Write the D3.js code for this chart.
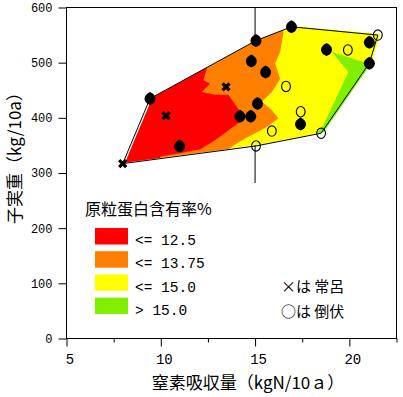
<!DOCTYPE html>
<html>
<head>
<meta charset="utf-8">
<script src="https://cdn.jsdelivr.net/npm/d3@7"></script>
<style>
  body { margin: 0; background: #fff; }
</style>
</head>
<body>
<svg id="chart" width="403" height="397"></svg>
<script>
// points: nitrogen uptake (kgN/10a) and grain yield (kg/10a)
const normalN = [9.43, 11.0, 14.2, 14.77, 15.05, 14.8, 15.56, 15.13, 16.93, 17.41, 18.79, 21.06, 21.06];
const normalYield = [435, 349, 403, 403, 540, 503, 483, 426, 565, 389, 524, 537, 499];
const tokoroN = [7.98, 10.28, 13.46];          // × は 常呂
const tokoroYield = [317, 404, 456];
const lodgedN = [15.05, 16.64, 15.89, 17.42, 19.92, 18.5, 21.51]; // ○ は 倒伏
const lodgedYield = [349, 457, 376, 411, 523, 372, 550];

// protein class areas (N, yield), clipped to the hull later
const redArea = [[12.45, 513], [12.44, 489], [12.26, 468], [12.61, 462], [12.17, 447], [12.88, 442],
  [13.58, 442], [14.47, 399], [14.1, 390], [12.9, 360], [12.1, 343], [11.0, 336], [10.0, 330],
  [9.5, 290], [6.5, 290], [6.5, 513]];
const orangeArea = [[16.5, 590], [16.5, 553], [16.33, 519.5], [16.06, 498.5], [16.33, 471], [15.89, 447],
  [15.36, 429], [15.89, 414], [16.24, 399], [15.62, 383.5], [14.47, 362.5], [13.85, 350], [13.41, 338],
  [13.14, 300], [6.5, 300], [6.5, 590]];
const greenArea = [[19.07, 519.5], [20.75, 501], [21.2, 507], [22.6, 507], [22.6, 300], [17.8, 300],
  [18.18, 368.5], [18.62, 386.6], [19.95, 483]];

const classLabels = ["<= 12.5", "<= 13.75", "<= 15.0", "> 15.0"];
const classColors = ["#ff0000", "#ff8000", "#ffff00", "#80f000"];

const xTicks = [5, 7.5, 10, 12.5, 15, 17.5, 20, 22.5];
const yTicks = [0, 100, 200, 300, 400, 500, 600];
const refN = 15, refTop = 600, refBottom = 282;

const svg = d3.select("#chart");

const x = d3.scaleLinear().domain([5, 22.5]).range([66.5, 396.5]);
const y = d3.scaleLinear().domain([0, 600]).range([338.5, 7.5]);

const jp = "'Noto Sans CJK JP', sans-serif";
const mono = "'Liberation Mono', 'DejaVu Sans Mono', monospace";

// reference line at 15 (sits under the fill)
svg.append("line")
  .attr("x1", x(refN)).attr("x2", x(refN))
  .attr("y1", y(refTop)).attr("y2", y(refBottom))
  .attr("stroke", "#000");

const pts = [];
normalN.forEach((n, i) => pts.push([x(n), y(normalYield[i])]));
tokoroN.forEach((n, i) => pts.push([x(n), y(tokoroYield[i])]));
lodgedN.forEach((n, i) => pts.push([x(n), y(lodgedYield[i])]));
const hull = d3.polygonHull(pts);
const hullPath = "M" + hull.join("L") + "Z";

// fill is a little offset from the outline, as in the original
svg.append("clipPath").attr("id", "hullclip")
  .append("path")
  .attr("d", hullPath)
  .attr("transform", "translate(2.5,-1)");

const fills = svg.append("g").attr("clip-path", "url(#hullclip)");
fills.append("path").attr("d", hullPath).attr("transform", "translate(2.5,-1)").attr("fill", classColors[2]);

const area = d3.line().x(d => x(d[0])).y(d => y(d[1]));
fills.append("path").attr("d", area(orangeArea) + "Z").attr("fill", classColors[1]);
fills.append("path").attr("d", area(redArea) + "Z").attr("fill", classColors[0]);
fills.append("path").attr("d", area(greenArea) + "Z").attr("fill", classColors[3]);

svg.append("path").attr("d", hullPath).attr("fill", "none").attr("stroke", "#000").attr("stroke-width", 1);

// markers
svg.append("g").selectAll("path")
  .data(normalN.map((n, i) => [n, normalYield[i]]))
  .join("path")
  .attr("transform", d => `translate(${x(d[0])},${y(d[1])})`)
  .attr("d", "M0,-6.5C3,-5 5.5,-3 5.5,0C5.5,3.5 3,5.5 0,6.5C-3,5.5 -5.5,3.5 -5.5,0C-5.5,-3 -3,-5 0,-6.5Z")
  .attr("fill", "#000");

svg.append("g").selectAll("ellipse")
  .data(lodgedN.map((n, i) => [n, lodgedYield[i]]))
  .join("ellipse")
  .attr("cx", d => x(d[0])).attr("cy", d => y(d[1]))
  .attr("rx", 4.4).attr("ry", 5.2)
  .attr("fill", "none").attr("stroke", "#000").attr("stroke-width", 1.1);

svg.append("g").selectAll("path")
  .data(tokoroN.map((n, i) => [n, tokoroYield[i]]))
  .join("path")
  .attr("transform", d => `translate(${x(d[0])},${y(d[1])})`)
  .attr("d", "M-3.5,-3.5L3.5,3.5M3.5,-3.5L-3.5,3.5")
  .attr("stroke", "#000").attr("stroke-width", 3.3);

// frame
svg.append("rect")
  .attr("x", x(5)).attr("y", y(600))
  .attr("width", x(22.5) - x(5)).attr("height", y(0) - y(600))
  .attr("fill", "none").attr("stroke", "#000");

// axes
const xAxis = svg.append("g")
  .attr("transform", `translate(0,${y(0)})`)
  .call(d3.axisBottom(x).tickValues(xTicks).tickSizeOuter(0)
    .tickFormat(d => d % 5 === 0 && d < 22 ? d3.format("d")(d) : ""));
xAxis.select(".domain").remove();
xAxis.selectAll(".tick line").attr("y2", d => d % 5 === 0 ? 8 : 4);
xAxis.selectAll(".tick text")
  .attr("y", 25).attr("dy", 0).attr("dx", 3)
  .style("font-family", mono).style("font-size", "14px").attr("fill", "#000");

const yAxis = svg.append("g")
  .attr("transform", `translate(${x(5)},0)`)
  .call(d3.axisLeft(y).tickValues(yTicks).tickSize(8).tickPadding(6).tickSizeOuter(0));
yAxis.select(".domain").remove();
yAxis.selectAll(".tick text")
  .style("font-family", mono).style("font-size", "12px").attr("fill", "#000");

// axis titles
svg.append("text")
  .attr("x", 248).attr("y", 389)
  .attr("text-anchor", "middle")
  .style("font-family", jp).style("font-size", "17px")
  .text("窒素吸収量（kgN/10ａ）");

svg.append("text")
  .attr("transform", "translate(21,154) rotate(-90)")
  .attr("text-anchor", "middle")
  .style("font-family", jp).style("font-size", "17px")
  .text("子実重（kg/10a）");

// legend
svg.append("text")
  .attr("x", 85).attr("y", 215)
  .style("font-family", jp).style("font-size", "16px")
  .text("原粒蛋白含有率%");

const legend = svg.append("g");
classLabels.forEach((lab, i) => {
  legend.append("rect")
    .attr("x", 95).attr("y", 228 + i * 23.2)
    .attr("width", 33).attr("height", 16.5)
    .attr("fill", classColors[i]);
  legend.append("text")
    .attr("x", 135).attr("y", 245 + i * 23.4)
    .style("font-family", mono).style("font-size", "14.5px")
    .text(lab);
});

svg.append("text")
  .attr("x", 281).attr("y", 292)
  .style("font-family", jp).style("font-size", "15px")
  .text("×は 常呂");
svg.append("text")
  .attr("x", 281).attr("y", 317)
  .style("font-family", jp).style("font-size", "15px")
  .text("○は 倒伏");
</script>
</body>
</html>
